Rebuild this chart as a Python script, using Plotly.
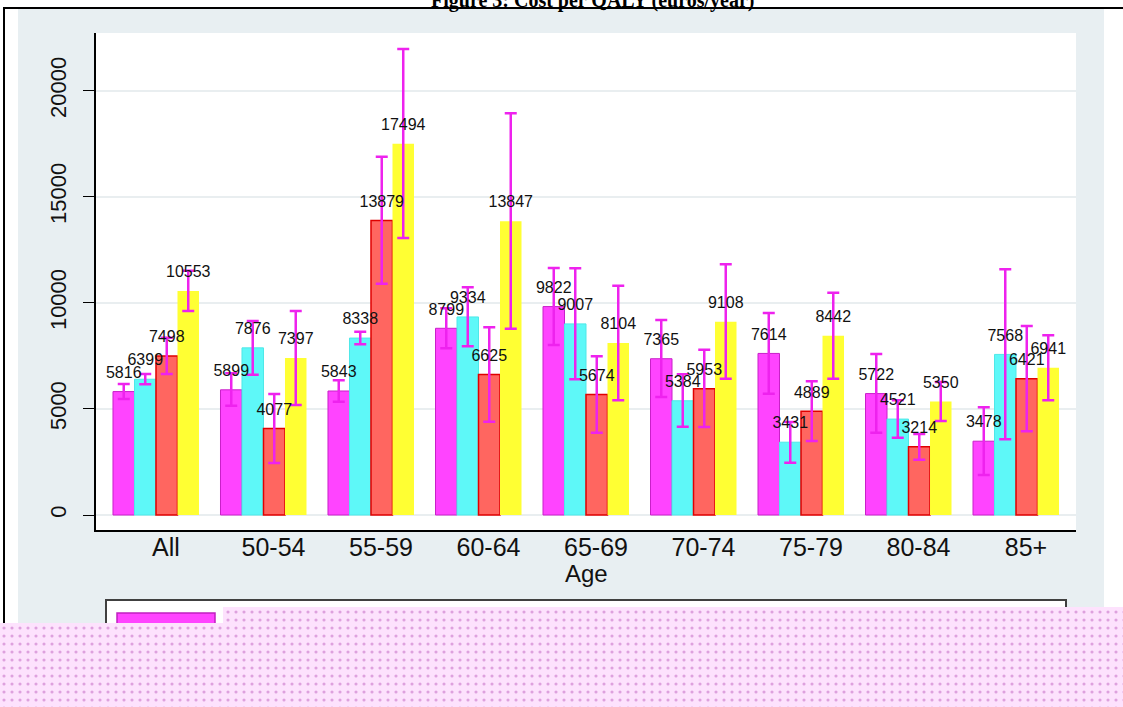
import plotly.graph_objects as go

# age groups on the x axis
ages = ["All", "50-54", "55-59", "60-64", "65-69", "70-74", "75-79", "80-84", "85+"]

# cost per QALY, one list per series (legend text is hidden in the source)
s1 = [5816, 5899, 5843, 8799, 9822, 7365, 7614, 5722, 3478]
s1_lo = [5467, 5152, 5340, 7856, 8012, 5561, 5718, 3880, 1885]
s1_hi = [6174, 6678, 6347, 9741, 11641, 9190, 9520, 7588, 5074]

s2 = [6399, 7876, 8338, 9334, 9007, 5384, 3431, 4521, 7568]
s2_lo = [6160, 6613, 8045, 7951, 6395, 4163, 2466, 3644, 3566]
s2_hi = [6645, 9143, 8640, 10731, 11626, 6630, 4383, 5404, 11580]

s3 = [7498, 4077, 13879, 6625, 5674, 5953, 4889, 3214, 6421]
s3_lo = [6645, 2451, 10902, 4399, 3880, 4147, 3488, 2608, 3943]
s3_hi = [8357, 5703, 16887, 8846, 7478, 7792, 6300, 3818, 8908]

s4 = [10553, 7397, 17494, 13847, 8104, 9108, 8442, 5350, 6941]
s4_lo = [9614, 5184, 13055, 8781, 5404, 6425, 6425, 4430, 5404]
s4_hi = [11514, 9614, 21963, 18932, 10808, 11815, 10478, 6268, 8469]

W, H = 1123, 707
def px(x):
    return x / W
def py(y):
    return 1 - y / H

series = [
    ("s1", s1, s1_lo, s1_hi, "#ff44ff", "#c820c8", 1),
    ("s2", s2, s2_lo, s2_hi, "#5ef8f8", "#4ee8e8", 1),
    ("s3", s3, s3_lo, s3_hi, "#ff6660", "#e00000", 1.5),
    ("s4", s4, s4_lo, s4_hi, "#ffff33", "#ffff33", 0),
]

fig = go.Figure()
for i, (name, vals, lo, hi, fill, line, lw) in enumerate(series):
    fig.add_trace(go.Bar(
        x=ages, y=vals, name=name, offsetgroup=str(i),
        marker=dict(color=fill, line=dict(color=line, width=lw)),
        error_y=dict(type="data", symmetric=False,
                     array=[h - v for h, v in zip(hi, vals)],
                     arrayminus=[v - l for v, l in zip(vals, lo)],
                     color="#ee22ee", thickness=2.5, width=6),
        showlegend=False,
    ))
# value labels sit a little above each bar (invisible marker pushes text up)
for i, (name, vals, lo, hi, fill, line, lw) in enumerate(series):
    fig.add_trace(go.Scatter(
        x=ages, y=vals, mode="markers+text", text=[str(v) for v in vals],
        textposition="top center", offsetgroup=str(i),
        marker=dict(size=14, color="rgba(0,0,0,0)"),
        textfont=dict(family="Liberation Sans, Arial", size=16, color="#111111"),
        showlegend=False, hoverinfo="skip",
    ))

# mask over the legend area (dotted pink block in the source)
mask_x = [0, 223, 223, 1123, 1123, 0, 0]
mask_y = [623, 623, 607, 607, 707, 707, 623]
fig.add_trace(go.Scatter(
    x=mask_x, y=mask_y, xaxis="x2", yaxis="y2", mode="none", fill="toself",
    fillcolor="#fde2fd",
    fillpattern=dict(shape=".", size=8, solidity=0.12, fgcolor="#c060c0", bgcolor="#fde2fd"),
    showlegend=False, hoverinfo="skip",
))

shapes = [
    # stata grey background and white plot region
    dict(type="rect", xref="paper", yref="paper", x0=px(18), x1=px(1104), y0=py(707), y1=py(9),
         fillcolor="#e8eff2", line=dict(width=0), layer="below"),
    dict(type="rect", xref="paper", yref="paper", x0=px(96), x1=px(1076), y0=py(530), y1=py(33),
         fillcolor="white", line=dict(width=0), layer="below"),
    # frame lines
    dict(type="line", xref="paper", yref="paper", x0=px(3), x1=px(1123), y0=py(8), y1=py(8),
         line=dict(color="black", width=2), layer="below"),
    dict(type="line", xref="paper", yref="paper", x0=px(4), x1=px(4), y0=py(8), y1=py(707),
         line=dict(color="black", width=2), layer="below"),
    # legend box + first key
    dict(type="rect", xref="paper", yref="paper", x0=px(106), x1=px(1066), y0=py(720), y1=py(600),
         fillcolor="white", line=dict(color="#404040", width=2), layer="below"),
    dict(type="rect", xref="paper", yref="paper", x0=px(117), x1=px(215), y0=py(640), y1=py(613),
         fillcolor="#ff44ff", line=dict(color="#c020c0", width=1.5), layer="below"),
]

fig.update_layout(
    width=W, height=H,
    margin=dict(l=0, r=0, t=0, b=0),
    paper_bgcolor="white", plot_bgcolor="rgba(0,0,0,0)",
    barmode="group", bargap=0.2, bargroupgap=0,
    scattermode="group", scattergap=0.2,
    font=dict(family="Liberation Sans, Arial", color="#111111"),
    shapes=shapes,
    annotations=[
        dict(text="<b>Figure 3: Cost per QALY (euros/year)</b>", xref="paper", yref="paper",
             x=px(593), y=py(13.5), xanchor="center", yanchor="bottom", showarrow=False,
             font=dict(family="Liberation Serif, Times New Roman", size=20, color="black")),
        dict(text="Age", xref="paper", yref="paper", x=px(586), y=py(573),
             xanchor="center", yanchor="middle", showarrow=False,
             font=dict(family="Liberation Sans, Arial", size=24, color="#111111")),
    ],
    xaxis=dict(
        domain=[px(96), px(1076)], range=[-0.558, 8.558],
        showline=True, linecolor="black", linewidth=1.5, ticks="",
        tickfont=dict(size=25), ticklabelshift=10, ticklabelstandoff=-6,
        showgrid=False, zeroline=False,
    ),
    yaxis=dict(
        domain=[py(530), py(33)], range=[-707, 22715],
        tickvals=[0, 5000, 10000, 15000, 20000], tickformat="d",
        showline=True, linecolor="black", linewidth=1.5,
        ticks="outside", ticklen=11, tickcolor="black", tickwidth=1.2,
        tickangle=-90, tickfont=dict(size=22), ticklabelstandoff=8,
        showgrid=True, gridcolor="#e9eef0", gridwidth=1.5, zeroline=False,
    ),
    xaxis2=dict(domain=[0, 1], range=[0, W], visible=False, anchor="y2", fixedrange=True),
    yaxis2=dict(domain=[0, 1], range=[H, 0], visible=False, anchor="x2", fixedrange=True),
)

fig.write_html("out.html", config={"displayModeBar": False},
               post_script="document.body.style.margin='0';document.body.style.overflow='hidden';")
